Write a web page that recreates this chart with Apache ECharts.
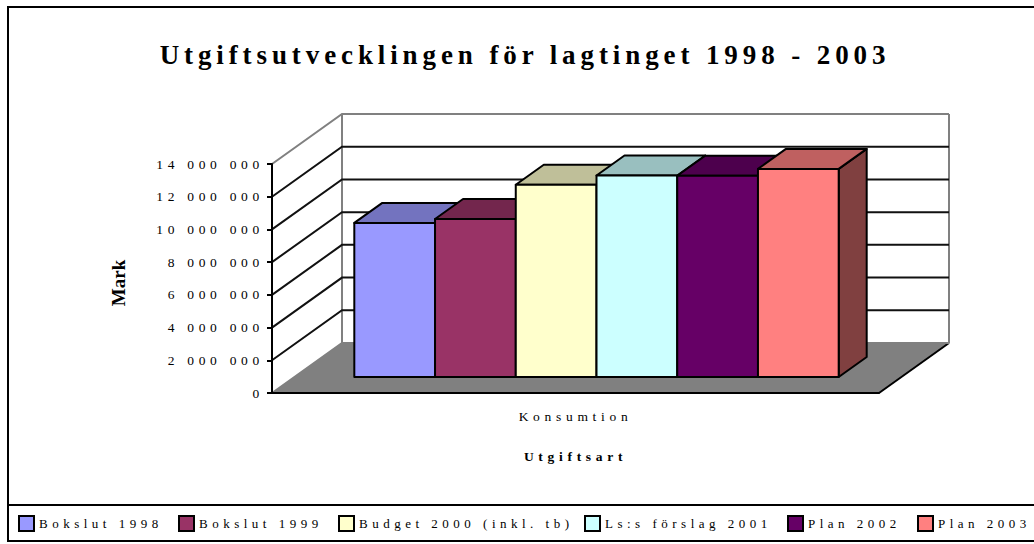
<!DOCTYPE html>
<html>
<head>
<meta charset="utf-8">
<title>Utgiftsutvecklingen</title>
<script src="https://cdn.jsdelivr.net/npm/echarts@6/dist/echarts.min.js"></script>
<style>
  html, body { margin: 0; padding: 0; background: #fff; }
  #main { width: 1034px; height: 544px; }
  /* the svg renderer lets us space the letters like the original */
  #main text { letter-spacing: 4.5px; }
  #main text[style*="13.5px"] { letter-spacing: 4.7px; }
  #main text[style*="27px"] { letter-spacing: 4.9px; }
  #main text[style*="19px"] { letter-spacing: 0; }
</style>
</head>
<body>
<div id="main"></div>
<script>
const categories = ['Konsumtion']
const seriesNames = ['Bokslut 1998', 'Bokslut 1999', 'Budget 2000 (inkl. tb)', 'Ls:s förslag 2001', 'Plan 2002', 'Plan 2003']
const bokslut1998 = [9420000]
const bokslut1999 = [9660000]
const budget2000 = [11750000]
const forslag2001 = [12320000]
const plan2002 = [12300000]
const plan2003 = [12720000]
const seriesValues = [bokslut1998, bokslut1999, budget2000, forslag2001, plan2002, plan2003]
const yTicks = [0, 2000000, 4000000, 6000000, 8000000, 10000000, 12000000, 14000000]
const yTickLabels = ['0', '2 000 000', '4 000 000', '6 000 000', '8 000 000', '10 000 000', '12 000 000', '14 000 000']

const colors = ['#9999FF', '#993366', '#FFFFCC', '#CCFFFF', '#660066', '#FF8080']
const legendLeft = [18, 178, 338, 584, 787, 917]

// oblique projection of the box
const depthX = 70
const depthY = 50
const barFrontX = 0.3
const barFrontY = 0.32
const barDepth = 0.4
const bandFill = 0.798
const GRAY = '#808080'
const FONT = '"Liberation Serif", "Times New Roman", serif'

const chart = echarts.init(document.getElementById('main'), null, { renderer: 'svg' })

function shade (hex, f) {
  const n = parseInt(hex.slice(1), 16)
  const r = Math.round((n >> 16 & 255) * f)
  const g = Math.round((n >> 8 & 255) * f)
  const b = Math.round((n & 255) * f)
  return 'rgb(' + r + ',' + g + ',' + b + ')'
}

function renderWalls (params, api) {
  const cs = params.coordSys
  const v = api.value(1)
  const y = api.coord([0, v])[1]
  const left = cs.x
  const right = cs.x + cs.width
  const edge = (v === 0 || v === yTicks[yTicks.length - 1]) ? GRAY : '#111'
  const children = []
  if (v === 0) {
    children.push({
      type: 'polygon',
      shape: { points: [[left, y], [right, y], [right + depthX, y - depthY], [left + depthX, y - depthY]] },
      style: { fill: GRAY, stroke: 'none' }
    })
    children.push({
      type: 'polyline',
      shape: { points: [[left + depthX, cs.y - depthY], [left + depthX, y - depthY]] },
      style: { fill: 'none', stroke: GRAY, lineWidth: 2 }
    })
    children.push({
      type: 'polyline',
      shape: { points: [[right + depthX, cs.y - depthY], [right + depthX, y - depthY]] },
      style: { fill: 'none', stroke: GRAY, lineWidth: 2 }
    })
    children.push({
      type: 'polyline',
      shape: { points: [[right, y], [right + depthX, y - depthY]] },
      style: { fill: 'none', stroke: '#000', lineWidth: 2 }
    })
  }
  children.push({
    type: 'polyline',
    shape: { points: [[left, y], [left + depthX, y - depthY], [right + depthX, y - depthY]] },
    style: { fill: 'none', stroke: edge, lineWidth: 2 }
  })
  return { type: 'group', children: children }
}

function renderBar (params, api) {
  const idx = params.seriesIndex - 1
  const top = api.coord([api.value(0), api.value(1)])
  const base = api.coord([api.value(0), 0])
  const band = api.size([1, 0])[0]
  const w = band * bandFill / seriesNames.length
  const x0 = top[0] - band * bandFill / 2 + idx * w + depthX * barFrontX
  const x1 = x0 + w
  const yBase = base[1] - depthY * barFrontY
  const yTop = top[1] - depthY * barFrontY
  const dx = depthX * barDepth
  const dy = depthY * barDepth
  const c = colors[idx]
  const line = { stroke: '#000', lineWidth: 2, lineJoin: 'round' }
  return {
    type: 'group',
    children: [
      { type: 'polygon', shape: { points: [[x1, yTop], [x1 + dx, yTop - dy], [x1 + dx, yBase - dy], [x1, yBase]] },
        style: Object.assign({ fill: shade(c, 0.5) }, line) },
      { type: 'polygon', shape: { points: [[x0, yTop], [x0 + dx, yTop - dy], [x1 + dx, yTop - dy], [x1, yTop]] },
        style: Object.assign({ fill: shade(c, 0.75) }, line) },
      { type: 'polygon', shape: { points: [[x0, yTop], [x1, yTop], [x1, yBase], [x0, yBase]] },
        style: Object.assign({ fill: c }, line) }
    ]
  }
}

const option = {
  animation: false,
  backgroundColor: '#fff',
  title: {
    text: 'Utgiftsutvecklingen för lagtinget 1998 - 2003',
    left: 525,
    top: 41,
    textAlign: 'center',
    padding: 0,
    textStyle: { fontFamily: FONT, fontSize: 27, fontWeight: 'bold', color: '#000' }
  },
  graphic: [
    { type: 'rect', silent: true, z: 0, shape: { x: 8, y: 7, width: 1040, height: 534 },
      style: { fill: 'none', stroke: '#000', lineWidth: 2 } },
    { type: 'line', silent: true, z: 0, shape: { x1: 8, y1: 505, x2: 1034, y2: 505 },
      style: { stroke: '#000', lineWidth: 2 } }
  ],
  legend: seriesNames.map((name, i) => ({
    data: [name],
    left: legendLeft[i],
    top: 515,
    padding: 0,
    itemWidth: 15,
    itemHeight: 15,
    selectedMode: false,
    icon: 'rect',
    itemStyle: { borderColor: '#000', borderWidth: 2 },
    textStyle: { fontFamily: FONT, fontSize: 13, color: '#000' }
  })),
  grid: { left: 272, right: 155, top: 164, bottom: 151 },
  xAxis: {
    type: 'category',
    data: categories,
    z: 10,
    name: 'Utgiftsart',
    nameLocation: 'middle',
    nameGap: 56,
    nameTextStyle: { fontFamily: FONT, fontSize: 13.5, fontWeight: 'bold', color: '#000' },
    axisLine: { lineStyle: { color: '#000', width: 2 } },
    axisTick: { length: 5, lineStyle: { color: '#000', width: 2 } },
    axisLabel: { margin: 16, fontFamily: FONT, fontSize: 13.5, color: '#000' }
  },
  yAxis: {
    type: 'value',
    min: 0,
    max: 14000000,
    interval: 2000000,
    z: 10,
    name: 'Mark',
    nameLocation: 'middle',
    nameGap: 144,
    nameTextStyle: { fontFamily: FONT, fontSize: 19, fontWeight: 'bold', color: '#000', padding: [0, 9, 0, 0] },
    axisLine: { show: true, lineStyle: { color: '#000', width: 2 } },
    axisTick: { show: true, length: 5, lineStyle: { color: '#000', width: 2 } },
    axisLabel: {
      margin: 8,
      fontFamily: FONT,
      fontSize: 13.5,
      color: '#000',
      formatter: (value, index) => yTickLabels[index]
    },
    splitLine: { show: false }
  },
  series: [
    {
      type: 'custom',
      name: 'walls',
      renderItem: renderWalls,
      silent: true,
      z: 1,
      encode: { x: 0, y: 1 },
      data: yTicks.map(v => [0, v])
    }
  ].concat(seriesNames.map((name, i) => ({
    type: 'custom',
    name: name,
    renderItem: renderBar,
    silent: true,
    z: 2,
    itemStyle: { color: colors[i] },
    encode: { x: 0, y: 1 },
    data: seriesValues[i].map((v, k) => [k, v])
  })))
}

chart.setOption(option)
</script>
</body>
</html>
